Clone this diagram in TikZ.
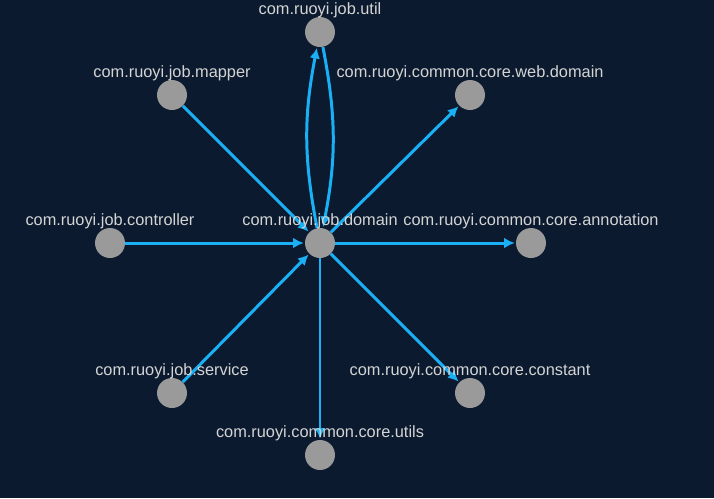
\documentclass[tikz,border=0pt]{standalone}
\usepackage{fontspec}
\setmainfont{Liberation Sans}
\usepackage{xcolor}
\usepackage{tikz}
\usetikzlibrary{arrows.meta, positioning, backgrounds}
\definecolor{PkgBack}{RGB}{11, 26, 47}
\definecolor{PkgEdge}{RGB}{26, 176, 245}
\definecolor{PkgNode}{RGB}{154, 154, 154}
\definecolor{PkgText}{RGB}{212, 212, 212}

\begin{document}
\begin{tikzpicture}[
    x=0.02cm, y=-0.02cm,
    pkg/.style={circle, fill=PkgNode, draw=none, minimum size=0.6cm, inner sep=0pt},
    pkglabel/.style={text=PkgText, font=\fontsize{9.3}{10}\selectfont, inner sep=0pt},
    dep/.style={draw=PkgEdge, line width=1.7pt, -{Latex[length=6pt, width=6pt]}, shorten >=0.5pt}
  ]
    % background
    \fill[PkgBack] (0,0) rectangle (714,498);
    \useasboundingbox (0,0) rectangle (714,498);

    % packages
    \node[pkg] (domain) at (320,243) {};
    \node[pkg] (util) at (320,32) {};
    \node[pkg] (mapper) at (172,95) {};
    \node[pkg] (webdomain) at (470,95) {};
    \node[pkg] (controller) at (110,243) {};
    \node[pkg] (annotation) at (531,243) {};
    \node[pkg] (service) at (172,393) {};
    \node[pkg] (constant) at (470,393) {};
    \node[pkg] (utils) at (320,455) {};

    % dependencies
    \draw[dep] (mapper) -- (domain);
    \draw[dep] (controller) -- (domain);
    \draw[dep] (service) -- (domain);
    \draw[dep] (domain) -- (webdomain);
    \draw[dep] (domain) -- (annotation);
    \draw[dep] (domain) -- (constant);
    \draw[dep] (domain) -- (utils);
    \draw[dep] (domain) to[bend left=11] (util);
    \draw[dep] (util) to[bend left=11] (domain);

    % names
    \node[pkglabel, above=-0.03cm of util] (utilname) {com.ruoyi.job.util};
    \node[pkglabel, above=-0.03cm of mapper] (mappername) {com.ruoyi.job.mapper};
    \node[pkglabel, above=-0.03cm of webdomain] (webdomainname) {com.ruoyi.common.core.web.domain};
    \node[pkglabel, above=-0.03cm of controller] (controllername) {com.ruoyi.job.controller};
    \node[pkglabel, above=-0.03cm of domain] (domainname) {com.ruoyi.job.domain};
    \node[pkglabel, above=-0.03cm of annotation] (annotationname) {com.ruoyi.common.core.annotation};
    \node[pkglabel, above=-0.03cm of service] (servicename) {com.ruoyi.job.service};
    \node[pkglabel, above=-0.03cm of constant] (constantname) {com.ruoyi.common.core.constant};
    \node[pkglabel, above=-0.03cm of utils] (utilsname) {com.ruoyi.common.core.utils};
\end{tikzpicture}
\end{document}
